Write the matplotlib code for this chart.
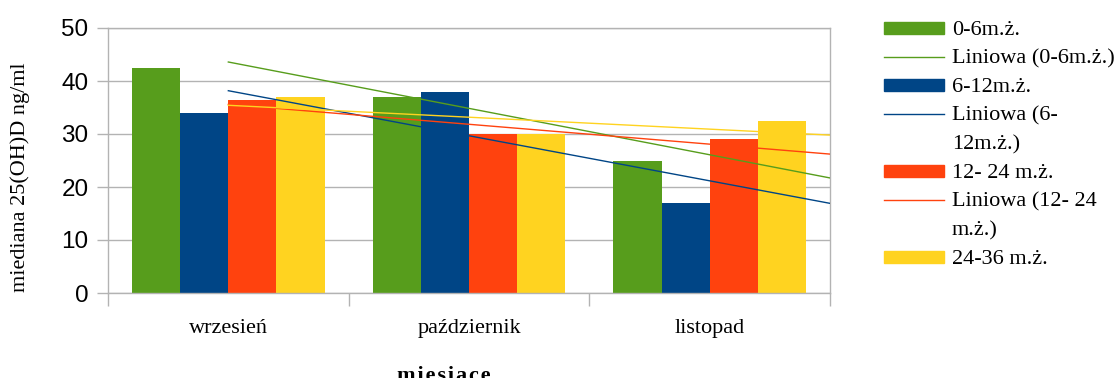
import numpy as np
import matplotlib
matplotlib.use("Agg")
import matplotlib.pyplot as plt
from matplotlib.patches import Rectangle
from matplotlib.lines import Line2D

# Median 25(OH)D per month and age group
months = ["wrzesień", "październik", "listopad"]
groups = ["0-6m.ż.", "6-12m.ż.", "12- 24 m.ż.", "24-36 m.ż."]
g_0_6 = [42.5, 37, 25]
g_6_12 = [34, 38, 17]
g_12_24 = [36.5, 30, 29]
g_24_36 = [37, 30, 32.5]
trend_labels = ["Liniowa (0-6m.ż.)", "Liniowa (6-\n12m.ż.)",
                "Liniowa (12- 24\nm.ż.)"]

colours = ["#579D1C", "#004586", "#FF420E", "#FFD320"]
series = [g_0_6, g_6_12, g_12_24, g_24_36]

W, H = 1120, 378
fig = plt.figure(figsize=(W / 100, H / 100), dpi=100)
ax = fig.add_axes([108 / W, 85 / H, 722 / W, 265 / H])

serif = "Liberation Serif"
grey = "#b3b3b3"

x = np.arange(1, len(months) + 1)
bw = 0.2
for i, (vals, c) in enumerate(zip(series, colours)):
    ax.bar(x + (i - 1.5) * bw, vals, width=bw, color=c, zorder=2)

# linear trend lines, from first category to the right edge
xt = np.array([1.0, 3.5])
for vals, c in zip(series, colours):
    k, b = np.polyfit(x, vals, 1)
    ax.plot(xt, k * xt + b, color=c, lw=1, zorder=3)

ax.set_xlim(0.5, 3.5)
ax.set_ylim(0, 50)
ax.set_yticks(range(0, 51, 10))
ax.yaxis.grid(True, color=grey, lw=1, zorder=0)
ax.set_axisbelow(True)
for s in ax.spines.values():
    s.set_color(grey)
    s.set_linewidth(1)

ax.set_xticks(x)
ax.set_xticklabels(months, fontfamily=serif, fontsize=16)
ax.set_xticks([0.5, 1.5, 2.5, 3.5], minor=True)
ax.tick_params(axis="x", which="major", length=0, pad=19)
ax.tick_params(axis="x", which="minor", length=9, color=grey, width=1)
ax.tick_params(axis="y", length=8, color=grey, width=1, pad=6,
               labelsize=17.5)
for t in ax.get_yticklabels():
    t.set_fontfamily("Liberation Sans")

fig.text(20 / W, 1 - 177 / H, "miediana 25(OH)D ng/ml", rotation=90,
         ha="center", va="center", fontfamily=serif, fontsize=16)
fig.text(444 / W, -3 / H, "\u200a".join("miesiace"),
         ha="center", va="baseline", fontfamily=serif, fontsize=16,
         fontweight="bold")


# legend, laid out in figure pixels
def fx(px):
    return px / W


def fy(py):
    return 1 - py / H


row_h = 28.6
entries = []  # (kind, colour index, label)
for i, g in enumerate(groups):
    entries.append(("patch", i, g))
    if i < len(trend_labels):
        entries.append(("line", i, trend_labels[i]))

row = 0
for kind, ci, label in entries:
    yc = 28 + row * row_h
    if kind == "patch":
        fig.add_artist(Rectangle((fx(884), fy(yc + 6)), fx(60), 12 / H,
                                 transform=fig.transFigure,
                                 color=colours[ci]))
    else:
        fig.add_artist(Line2D([fx(884), fx(944)], [fy(yc), fy(yc)],
                              transform=fig.transFigure,
                              color=colours[ci], lw=1))
    for line in label.split("\n"):
        yc = 28 + row * row_h
        fig.text(fx(952), fy(yc), line, ha="left", va="center_baseline",
                 fontfamily=serif, fontsize=16)
        row += 1

fig.savefig("out.png", dpi=100)
